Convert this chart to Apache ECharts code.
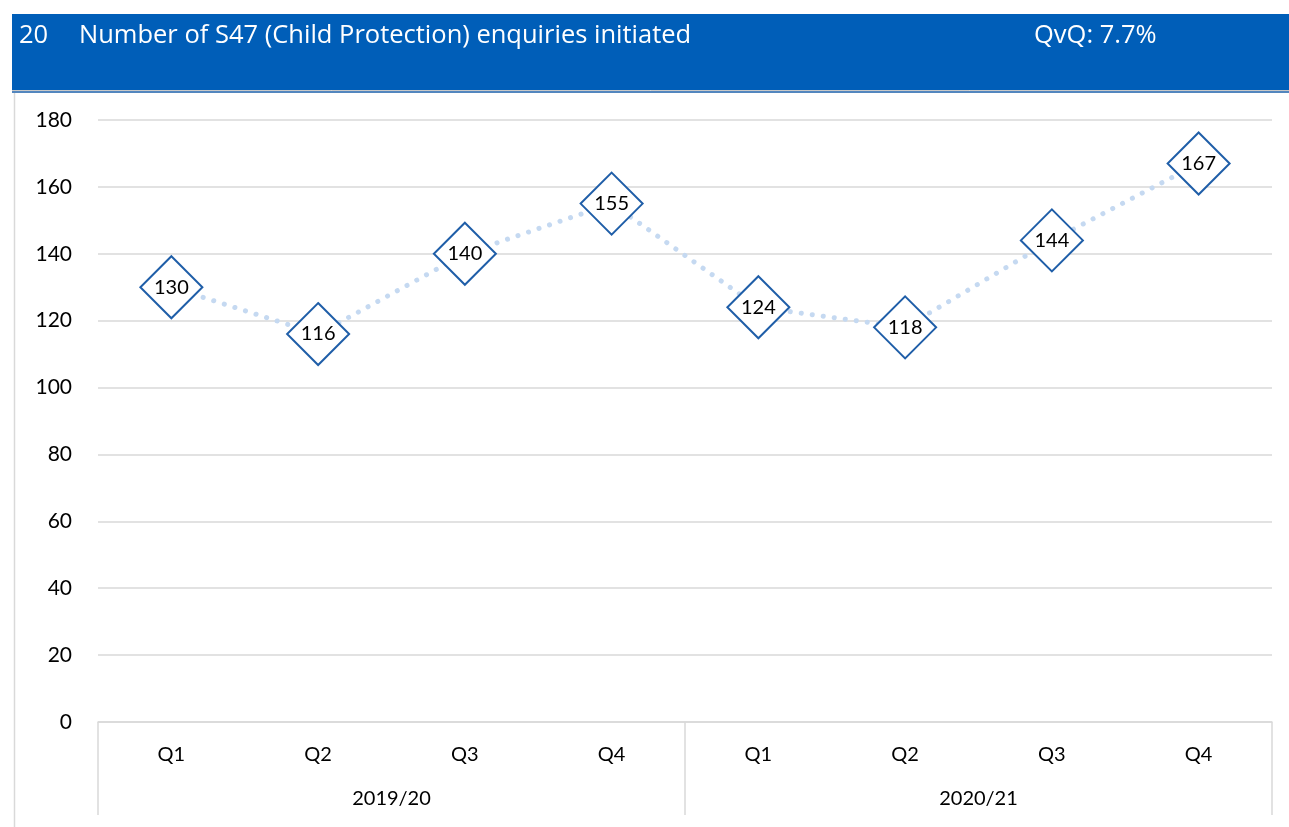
<!DOCTYPE html>
<html>
<head>
<meta charset="utf-8">
<style>
  html, body { margin: 0; padding: 0; background: #fff; }
  #chart { width: 1289px; height: 827px; }
</style>
<script src="https://cdn.jsdelivr.net/npm/echarts@6/dist/echarts.min.js"></script>
</head>
<body>
<div id="chart"></div>
<script>
// Quarterly count of S47 enquiries, grouped by financial year
const quarters = ['Q1', 'Q2', 'Q3', 'Q4', 'Q1', 'Q2', 'Q3', 'Q4'];
const years = ['2019/20', '2020/21'];
const enquiries = [130, 116, 140, 155, 124, 118, 144, 167];
const itemNo = '20';
const titleText = 'Number of S47 (Child Protection) enquiries initiated';
const changeText = 'QvQ: 7.7%';

const FONT = 'Lato, "Open Sans", sans-serif';
const HEAD_FONT = '"Open Sans", Lato, sans-serif';
const headStyle = { color: '#ffffff', fontSize: 25.5, fontWeight: 'normal', fontFamily: HEAD_FONT };
const chart = echarts.init(document.getElementById('chart'), null, { renderer: 'canvas' });

chart.setOption({
  backgroundColor: '#ffffff',
  animation: false,
  textStyle: { fontFamily: FONT },
  title: [
    { text: itemNo, left: 14, top: 18, textStyle: headStyle },
    { text: titleText, left: 74, top: 18, textStyle: headStyle },
    { text: changeText, left: 1029, top: 18, textStyle: headStyle }
  ],
  graphic: [
    { type: 'rect', z: -1, shape: { x: 12, y: 14, width: 1277, height: 76 },
      style: { fill: '#005EB8' } },
    { type: 'line', shape: { x1: 12, y1: 90.5, x2: 1289, y2: 90.5 },
      style: { stroke: '#c8c8c8', lineWidth: 1 } },
    { type: 'line', shape: { x1: 12, y1: 92, x2: 1289, y2: 92 },
      style: { stroke: '#1a5ea8', lineWidth: 1.5 } },
    { type: 'line', shape: { x1: 14.5, y1: 93, x2: 14.5, y2: 827 },
      style: { stroke: '#d9d9d9', lineWidth: 1.5 } }
  ],
  grid: { left: 98, right: 17, top: 120, bottom: 105 },
  xAxis: [
    {
      type: 'category',
      data: quarters,
      boundaryGap: true,
      axisLine: { show: true, lineStyle: { color: '#d9d9d9', width: 1.5 } },
      axisTick: { show: false },
      axisLabel: { color: '#000', fontSize: 20, margin: 23, fontFamily: FONT }
    },
    {
      type: 'category',
      data: years,
      position: 'bottom',
      boundaryGap: true,
      axisLine: { show: false },
      axisTick: { show: true, length: 93, lineStyle: { color: '#d9d9d9', width: 1.5 } },
      axisLabel: { color: '#000', fontSize: 20, margin: 67, fontFamily: FONT }
    }
  ],
  yAxis: {
    type: 'value',
    min: 0,
    max: 180,
    interval: 20,
    axisLine: { show: false },
    axisTick: { show: false },
    axisLabel: { color: '#000', fontSize: 21, margin: 26, fontFamily: FONT },
    splitLine: { lineStyle: { color: '#d9d9d9', width: 1.5 } }
  },
  series: [{
    type: 'line',
    data: enquiries,
    xAxisIndex: 0,
    symbol: 'diamond',
    symbolSize: 62,
    lineStyle: { color: '#c5d9f1', width: 5, type: [0.1, 11], cap: 'round' },
    itemStyle: { color: '#ffffff', borderColor: '#1f5ea8', borderWidth: 2 },
    label: {
      show: true,
      position: 'inside',
      color: '#000',
      fontSize: 20,
      fontFamily: FONT
    },
    z: 3
  }]
});
</script>
</body>
</html>
